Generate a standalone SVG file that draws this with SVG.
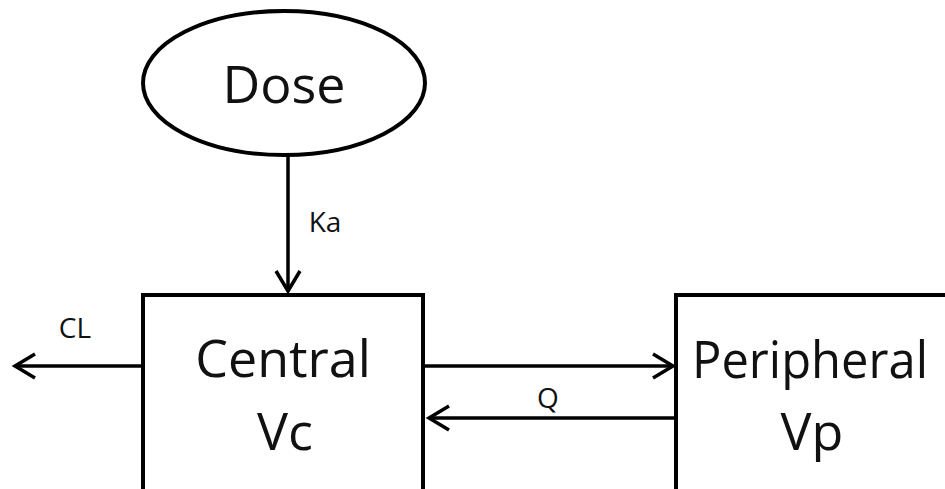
<svg xmlns="http://www.w3.org/2000/svg" width="945" height="489" viewBox="0 0 945 489">
<defs>
<style>
.shape{fill:#fff;stroke:#000;stroke-width:4}
.big{font-family:"Open Sans","Noto Sans",sans-serif;font-size:52px;fill:#111;text-anchor:middle}
.lbl{font-family:"Open Sans","Noto Sans",sans-serif;font-size:28px;fill:#111;text-anchor:middle}
.conn{stroke:#000;stroke-width:3.5;fill:none;marker-end:url(#arr)}
</style>
<marker id="arr" markerUnits="userSpaceOnUse" viewBox="-24 -14 28 28" refX="0" refY="0" markerWidth="28" markerHeight="28" orient="auto">
<polyline points="-20,-12 0,0 -20,12" fill="none" stroke="#000" stroke-width="3.5"/>
</marker>
</defs>
<rect width="945" height="489" fill="#fff"/>
<g id="connectors">
<line class="conn" x1="288" y1="155" x2="288" y2="291"/>
<line class="conn" x1="141" y1="366" x2="15" y2="366"/>
<line class="conn" x1="425" y1="366" x2="673" y2="366"/>
<line class="conn" x1="675" y1="418" x2="429" y2="418"/>
<text class="lbl" x="325" y="232">Ka</text>
<text class="lbl" x="75" y="338">CL</text>
<text class="lbl" x="548" y="408">Q</text>
</g>
<g id="dose">
<ellipse class="shape" cx="284" cy="83" rx="141" ry="72" stroke-width="3.5"/>
<text class="big" x="284" y="103">Dose</text>
</g>
<g id="central">
<rect class="shape" x="143" y="295" width="280" height="210"/>
<text class="big" x="283" y="377">Central</text>
<text class="big" x="285" y="450">Vc</text>
</g>
<g id="peripheral">
<rect class="shape" x="676" y="295" width="290" height="210"/>
<text class="big" x="810" y="378" textLength="236" lengthAdjust="spacingAndGlyphs">Peripheral</text>
<text class="big" x="812" y="450">Vp</text>
</g>
</svg>
